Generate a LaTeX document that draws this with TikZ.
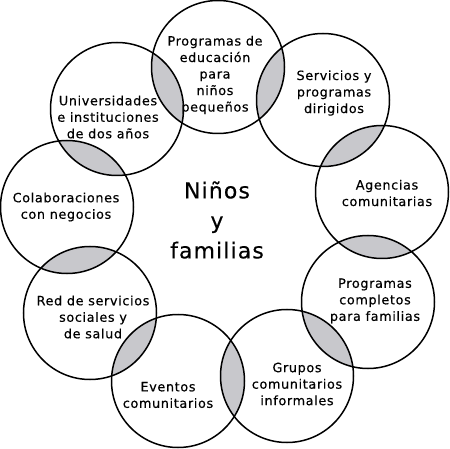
\documentclass[tikz,border=0pt]{standalone}
\usepackage{fontspec}
\usepackage{tikz}
\usetikzlibrary{positioning,backgrounds}
\newfontfamily\comicfont[LetterSpace=5,FakeBold=0.4]{DejaVu Sans}
\definecolor{lensgray}{RGB}{200,200,204}
\tikzset{ring/.style={draw=black,line width=1.5pt,circle,minimum size=133pt,inner sep=0pt},
txt/.style={align=center,inner sep=0pt,font=\comicfont\fontsize{12.8}{16.5}\selectfont},
lens/.style={fill=lensgray}}

\begin{document}
\begin{tikzpicture}[x=1pt,y=-1pt]
		\useasboundingbox (0,0) rectangle (450,449);
		% the nine rings
		\node[ring] (edu) at (218,67) {};
		\node[ring] (serv) at (323,100) {};
		\node[ring] (agen) at (382,192) {};
		\node[ring] (comp) at (368,302) {};
		\node[ring] (grup) at (287,376) {};
		\node[ring] (even) at (178,381) {};
		\node[ring] (red) at (90,313) {};
		\node[ring] (colab) at (67,207) {};
		\node[ring] (univ) at (117,109) {};

		% shaded overlaps
		\begin{scope}[on background layer]
			\foreach \a/\b in {edu/serv,serv/agen,agen/comp,comp/grup,grup/even,even/red,red/colab,colab/univ,univ/edu}{
				\begin{scope}
					\clip (\a.center) circle (66.5);
					\fill[lens] (\b.center) circle (66.5);
				\end{scope}
			}
		\end{scope}

		% texts
		\node[txt] (edu-t) at (215,75) {Programas de\\educación\\para\\niños\\pequeños};
		\node[txt] (serv-t) at (334,93) {Servicios y\\programas\\dirigidos};
		\node[txt] (agen-t) at (387,193) {Agencias\\comunitarias};
		\node[txt] (comp-t) at (375,301) {Programas\\completos\\para familias};
		\node[txt] (grup-t) at (297,384) {Grupos\\comunitarios\\informales};
		\node[txt] (even-t) at (168,395) {Eventos\\comunitarios};
		\node[txt] (red-t) at (93,317) {Red de servicios\\sociales y\\de salud};
		\node[txt] (colab-t) at (66,207) {Colaboraciones\\con negocios};
		\node[txt] (univ-t) at (108,117) {Universidades\\e instituciones\\de dos años};
		\node[align=center,inner sep=0pt,font=\comicfont\fontsize{22}{30}\selectfont] (ninos) at (217,220) {Niños\\y\\familias};
	\end{tikzpicture}
\end{document}
